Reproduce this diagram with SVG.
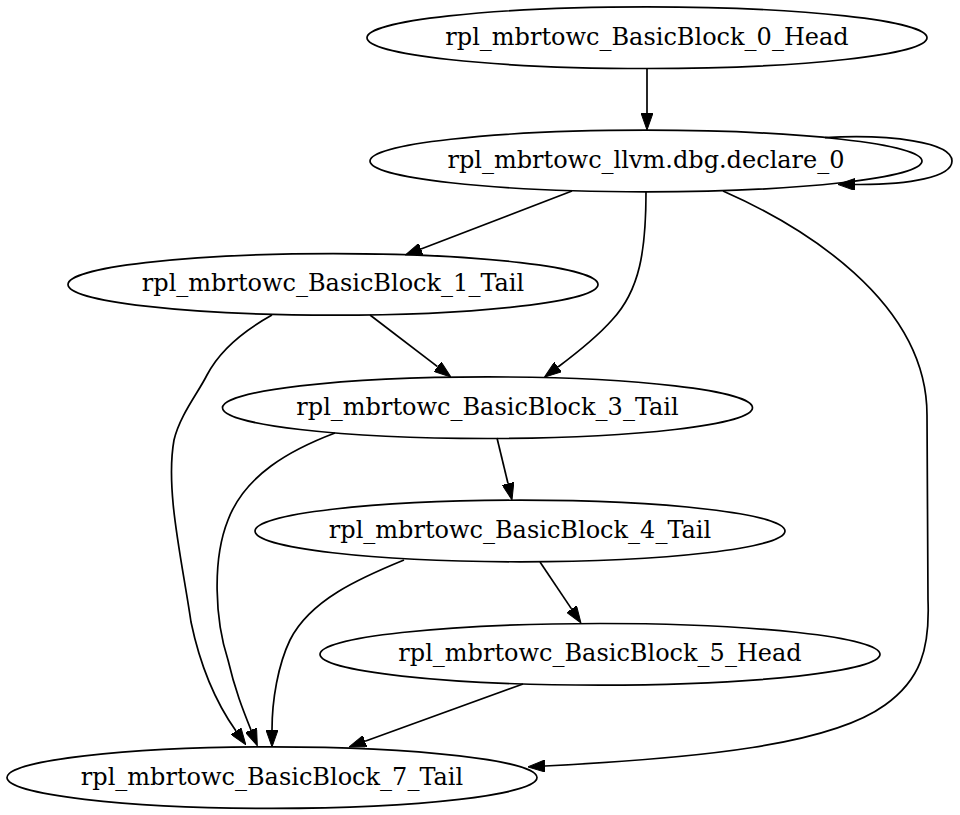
<svg xmlns="http://www.w3.org/2000/svg" width="960" height="815" viewBox="0 0 960 815">
<style>
.node ellipse{fill:none;stroke:#000;stroke-width:1.7}
.node text{font-family:"DejaVu Serif",serif;font-size:24px;text-anchor:middle;fill:#000}
.edges path{fill:none;stroke:#000;stroke-width:1.7;marker-end:url(#ah)}
</style>
<defs>
<marker id="ah" markerUnits="userSpaceOnUse" viewBox="0 -6 17 12" refX="0" refY="0" markerWidth="17" markerHeight="12" orient="auto">
<path d="M0,-6 L17,0 L0,6 z" fill="#000" stroke="#000" stroke-width="1"/>
</marker>
</defs>
<rect width="960" height="815" fill="#fff"/>
<g class="edges" id="edges">
<path d="M647,68.5 L647,113"/>
<path d="M825,137.6 C890,134 952,142 952,161 C952,177 910,185 855,184.5"/>
<path d="M572,191 L421,249"/>
<path d="M646,191.5 C646,250 640,290 612,320 C597,337 578,352 558,367"/>
<path d="M723,191 C800,225 927,300 927,415 L928,600 C930,650 920,680 885,705 C830,745 700,758 545,766"/>
<path d="M370,315 L437.5,366.7"/>
<path d="M272,315 C245,330 220,350 207,375 C198,393 180,415 174,440 C165,490 182,560 191,622 C200,665 214,700 236,731"/>
<path d="M335,433 C290,450 245,475 228,520 C212,560 215,620 228,660 C235,690 243,710 251,730"/>
<path d="M497,438 L508,483.5"/>
<path d="M404,560 C360,578 310,600 290,640 C278,665 272,700 272,730"/>
<path d="M540,562 L571.5,608.9"/>
<path d="M523,684 L365,741.2"/>
</g>
<g class="node" id="bb0"><ellipse cx="647" cy="37.7" rx="280" ry="30.8"/><text x="647" y="44.7">rpl_mbrtowc_BasicBlock_0_Head</text></g>
<g class="node" id="dbg"><ellipse cx="646" cy="161" rx="276" ry="30.8"/><text x="646" y="168">rpl_mbrtowc_llvm.dbg.declare_0</text></g>
<g class="node" id="bb1"><ellipse cx="333" cy="284.4" rx="265" ry="30.8"/><text x="333" y="291.4">rpl_mbrtowc_BasicBlock_1_Tail</text></g>
<g class="node" id="bb3"><ellipse cx="487.5" cy="407.7" rx="265" ry="30.8"/><text x="487.5" y="414.7">rpl_mbrtowc_BasicBlock_3_Tail</text></g>
<g class="node" id="bb4"><ellipse cx="520" cy="531" rx="265" ry="30.8"/><text x="520" y="538">rpl_mbrtowc_BasicBlock_4_Tail</text></g>
<g class="node" id="bb5"><ellipse cx="600" cy="654.3" rx="280" ry="30.8"/><text x="600" y="661.3">rpl_mbrtowc_BasicBlock_5_Head</text></g>
<g class="node" id="bb7"><ellipse cx="272" cy="777.6" rx="265" ry="30.8"/><text x="272" y="784.6">rpl_mbrtowc_BasicBlock_7_Tail</text></g>
</svg>
